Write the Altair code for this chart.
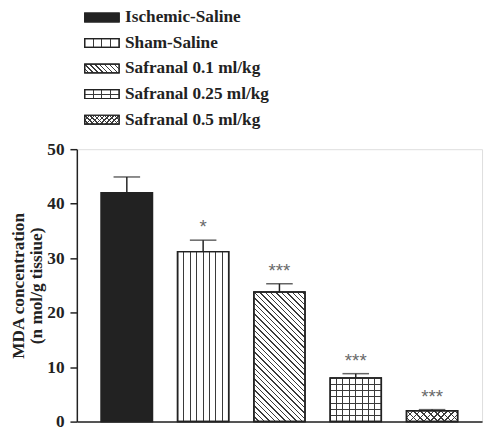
import altair as alt
import pandas as pd

# ---------------- data ----------------
groups = ["Ischemic-Saline", "Sham-Saline", "Safranal 0.1 ml/kg",
          "Safranal 0.25 ml/kg", "Safranal 0.5 ml/kg"]
mda = [42.0, 31.2, 23.8, 8.0, 2.0]
sem = [2.9, 2.1, 1.5, 0.8, 0.2]
signif = ["", "*", "***", "***", "***"]
y_ticks = [0, 10, 20, 30, 40, 50]
y_title = ["MDA concentration", "(n mol/g tissiue)"]

df = pd.DataFrame({"group": groups, "mda": mda, "sem": sem, "sig": signif})
leg_df = pd.DataFrame({"group": groups, "row": list(range(len(groups)))})

# ---------------- style ----------------
FONT = "Liberation Serif"
DARK = "#222222"
HATCH = "#3a3a3a"
W, H = 412, 277
P_IN, P_OUT = 0.33, 0.32
YMAX = 50
BW = W / (len(groups) - P_IN + 2 * P_OUT) * (1 - P_IN)   # bar width in px
PX = H / YMAX                                             # px per unit
fills = ["#222222", "white", "white", "white", "white"]

# hatch kinds per group: v vertical, h horizontal, d "\" diagonal, a "/" diagonal
bar_patterns = {
    "Sham-Saline": [("v", BW / 8)],
    "Safranal 0.1 ml/kg": [("d", 5.5)],
    "Safranal 0.25 ml/kg": [("v", BW / 8), ("h", 6.3)],
    "Safranal 0.5 ml/kg": [("d", 7.0), ("a", 7.0)],
}
LSW, LSH = 35, 9
leg_patterns = {
    "Sham-Saline": [("v", LSW / 4)],
    "Safranal 0.1 ml/kg": [("d", 5.0)],
    "Safranal 0.25 ml/kg": [("v", LSW / 4), ("h", LSH / 2)],
    "Safranal 0.5 ml/kg": [("d", 5.0), ("a", 5.0)],
}


def hatch_gradient(kind, w, h, spacing, lw=1.0, color=HATCH):
    clear = "rgba(0,0,0,0)"
    if kind == "v":
        L = w
        centers = []
        k = 1
        while k * spacing < w - 0.5:
            centers.append(k * spacing)
            k += 1
        coords = dict(x1=0, y1=0, x2=1, y2=0)
        lwt = lw
    elif kind == "h":
        L = h
        centers = []
        k = 1
        while h - k * spacing > 0.5:
            centers.append(h - k * spacing)
            k += 1
        centers.sort()
        coords = dict(x1=0, y1=0, x2=0, y2=1)
        lwt = lw
    elif kind == "d":
        L = w + h
        kk = (w + h) / (w * w + h * h)
        centers = []
        k = int(-h // spacing)
        while k * spacing < w:
            f = k * spacing
            if f > -h:
                centers.append(f + h)
            k += 1
        coords = dict(x1=0, y1=1, x2=kk * w, y2=1 - kk * h)
        lwt = lw * 1.414
    else:  # "a"
        L = w + h
        kk = (w + h) / (w * w + h * h)
        centers = []
        k = 1
        while k * spacing < w + h:
            centers.append(k * spacing)
            k += 1
        coords = dict(x1=0, y1=0, x2=kk * w, y2=kk * h)
        lwt = lw * 1.414
    stops = [{"offset": 0, "color": clear}]
    for c in centers:
        a = max(0.0, (c - lwt / 2) / L)
        b = min(1.0, (c + lwt / 2) / L)
        stops += [{"offset": a, "color": clear}, {"offset": a, "color": color},
                  {"offset": b, "color": color}, {"offset": b, "color": clear}]
    stops.append({"offset": 1, "color": clear})
    g = {"gradient": "linear", "stops": stops}
    g.update(coords)
    return g


# ---------------- main chart ----------------
base = alt.Chart(df).transform_calculate(top="datum.mda + datum.sem")

x_enc = alt.X("group:N", sort=groups,
              scale=alt.Scale(paddingInner=P_IN, paddingOuter=P_OUT),
              axis=alt.Axis(labels=False, ticks=False, title=None,
                            domainColor=DARK, domainWidth=1.5))
y_scale = alt.Scale(domain=[0, YMAX], nice=False, zero=True)
y_axis = alt.Axis(values=y_ticks, tickSize=7, tickWidth=1.5, tickColor=DARK,
                  domainColor=DARK, domainWidth=1.5, grid=False,
                  labelPadding=6, labelFont=FONT, labelFontSize=17.5,
                  labelFontWeight="bold", labelColor=DARK,
                  title=y_title, titleFont=FONT, titleFontSize=17.5,
                  titleFontWeight="bold", titleColor=DARK,
                  titleX=-50, titleY=H / 2, titleAngle=-90,
                  titleAlign="center", titleBaseline="bottom",
                  titleLineHeight=18)
color_enc = alt.Color("group:N", scale=alt.Scale(domain=groups, range=fills),
                      legend=None)

bars = base.mark_bar(stroke=DARK, strokeWidth=1.5).encode(
    x=x_enc, y=alt.Y("mda:Q", scale=y_scale, axis=y_axis), fill=color_enc)

pattern_layers = []
for g in groups:
    h_px = mda[groups.index(g)] * PX
    for kind, sp in bar_patterns.get(g, []):
        grad = hatch_gradient(kind, BW, h_px, sp)
        pattern_layers.append(
            base.transform_filter(alt.datum.group == g)
            .mark_bar(fill=grad, strokeWidth=0)
            .encode(x=x_enc, y=alt.Y("mda:Q", scale=y_scale, axis=y_axis)))

outline = base.mark_bar(fillOpacity=0, stroke=DARK, strokeWidth=1.5).encode(
    x=x_enc, y=alt.Y("mda:Q", scale=y_scale, axis=y_axis))

stems = base.mark_rule(color=DARK, strokeWidth=1.5).encode(
    x=x_enc, y=alt.Y("mda:Q", scale=y_scale, axis=y_axis), y2="top:Q")
caps = base.mark_tick(color=DARK, size=27, thickness=1.5).encode(
    x=x_enc, y=alt.Y("top:Q", scale=y_scale, axis=y_axis))
stars = base.transform_filter(alt.datum.sig != "").mark_text(
    font="Liberation Sans", fontSize=19, color="#6a6a6a",
    baseline="alphabetic", dy=-7).encode(
    x=x_enc, y=alt.Y("top:Q", scale=y_scale, axis=y_axis), text="sig:N")

main = alt.layer(bars, *pattern_layers, outline, stems, caps, stars)

# ---------------- legend ----------------
lbase = alt.Chart(leg_df).transform_calculate(
    y0="datum.row - 0.173", y1="datum.row + 0.173")
ly_scale = alt.Scale(domain=[0, len(groups) - 1], range=[-134, -30],
                     nice=False, zero=False)
ly0 = alt.Y("y0:Q", scale=ly_scale, axis=None)
swatch = lbase.mark_rect(stroke=DARK, strokeWidth=1.2).encode(
    x=alt.value(8), x2=alt.value(43), y=ly0, y2="y1:Q", fill=color_enc)
leg_pats = []
for g in groups:
    for kind, sp in leg_patterns.get(g, []):
        grad = hatch_gradient(kind, LSW, LSH, sp, lw=0.9)
        leg_pats.append(
            lbase.transform_filter(alt.datum.group == g)
            .mark_rect(fill=grad, strokeWidth=0)
            .encode(x=alt.value(8), x2=alt.value(43), y=ly0, y2="y1:Q"))
swatch_outline = lbase.mark_rect(fillOpacity=0, stroke=DARK, strokeWidth=1.2).encode(
    x=alt.value(8), x2=alt.value(43), y=ly0, y2="y1:Q")
labels = lbase.mark_text(align="left", baseline="middle", font=FONT,
                         fontSize=17.5, fontWeight="bold", color=DARK).encode(
    x=alt.value(49), y=alt.Y("row:Q", scale=ly_scale, axis=None),
    text="group:N")
legend = alt.layer(swatch, *leg_pats, swatch_outline, labels)

chart = alt.layer(main, legend).resolve_scale(y="independent").properties(
    width=W, height=H,
    autosize=alt.AutoSizeParams(type="none"),
    padding={"left": 70, "top": 140, "right": 3, "bottom": 6},
).configure_view(stroke=None).configure(background="white")

chart.save("out.html", embed_options={"renderer": "svg", "actions": False})
